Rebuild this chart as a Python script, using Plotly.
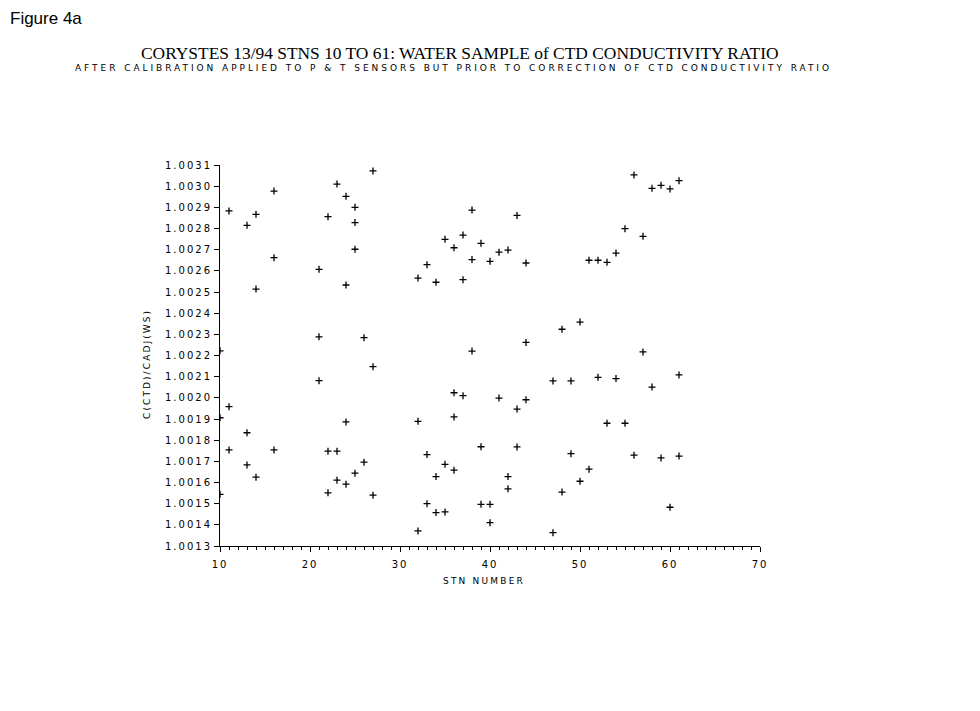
import plotly.graph_objects as go

# Station numbers and water-sample conductivity ratio C(CTD)/CADJ(WS)
stn = [
    10, 10, 10,
    11, 11, 11,
    13, 13, 13,
    14, 14, 14,
    16, 16, 16,
    21, 21, 21,
    22, 22, 22,
    23, 23, 23,
    24, 24, 24, 24,
    25, 25, 25, 25,
    26, 26,
    27, 27, 27,
    32, 32, 32,
    33, 33, 33,
    34, 34, 34,
    35, 35, 35,
    36, 36, 36, 36,
    37, 37, 37,
    38, 38, 38,
    39, 39, 39,
    40, 40, 40,
    41, 41,
    42, 42, 42,
    43, 43, 43,
    44, 44, 44,
    47, 47,
    48, 48,
    49, 49,
    50, 50,
    51, 51,
    52, 52,
    53, 53,
    54, 54,
    55, 55,
    56, 56,
    57, 57,
    58, 58,
    59, 59,
    60, 60,
    61, 61, 61,
]
ratio = [
    1.002222, 1.001906, 1.001544,
    1.002883, 1.001958, 1.001754,
    1.002815, 1.001835, 1.001683,
    1.002867, 1.002514, 1.001625,
    1.002977, 1.002662, 1.001754,
    1.002607, 1.002288, 1.002081,
    1.002856, 1.001748, 1.001551,
    1.003010, 1.001748, 1.001611,
    1.002952, 1.002533, 1.001886, 1.001592,
    1.002900, 1.002828, 1.002702, 1.001644,
    1.002284, 1.001696,
    1.003072, 1.002147, 1.001540,
    1.002566, 1.001889, 1.001371,
    1.002629, 1.001732, 1.001500,
    1.002546, 1.001628, 1.001458,
    1.002749, 1.001686, 1.001461,
    1.002709, 1.002024, 1.001910, 1.001658,
    1.002769, 1.002558, 1.002010,
    1.002887, 1.002653, 1.002221,
    1.002730, 1.001769, 1.001497,
    1.002645, 1.001497, 1.001410,
    1.002688, 1.001999,
    1.002698, 1.001628, 1.001570,
    1.002862, 1.001947, 1.001768,
    1.002637, 1.002262, 1.001991,
    1.002080, 1.001363,
    1.002324, 1.001555,
    1.002080, 1.001736,
    1.002358, 1.001606,
    1.002650, 1.001663,
    1.002650, 1.002097,
    1.002640, 1.001880,
    1.002684, 1.002091,
    1.002799, 1.001880,
    1.003053, 1.001729,
    1.002763, 1.002217,
    1.002990, 1.002051,
    1.003004, 1.001716,
    1.002987, 1.001483,
    1.003026, 1.002108, 1.001725,
]

y_ticks = [1.0013 + 0.0001 * i for i in range(19)]
y_labels = [f"{v:.4f}" for v in y_ticks]
x_ticks = [10, 20, 30, 40, 50, 60, 70]
x_labels = [str(v) for v in x_ticks]

title_text = "CORYSTES 13/94 STNS 10 TO 61: WATER SAMPLE of CTD CONDUCTIVITY RATIO"
subtitle_text = "AFTER CALIBRATION APPLIED TO P & T SENSORS BUT PRIOR TO CORRECTION OF CTD CONDUCTIVITY RATIO"
x_title = "STN NUMBER"
y_title = "C(CTD)/CADJ(WS)"
fig_label = "Figure 4a"


def spaced(text, px):
    return f'<span style="letter-spacing:{px}px">{text}</span>'


W, H = 980, 711
ML, MR, MT, MB = 212, 228, 157, 173
PW, PH = W - ML - MR, H - MT - MB


def px_x(x):
    return (x - ML) / PW


def px_y(y):
    return (H - y - MB) / PH


fig = go.Figure()
fig.add_trace(go.Scatter(
    x=stn, y=ratio, mode="markers",
    marker=dict(symbol="cross-thin", size=5, color="black",
                line=dict(color="black", width=1.3)),
    showlegend=False, hoverinfo="x+y",
))

tick_font = dict(family="DejaVu Sans", size=10, color="black")
title_font = dict(family="DejaVu Sans", size=9, color="black")

fig.update_layout(
    width=W, height=H,
    paper_bgcolor="white", plot_bgcolor="white",
    margin=dict(l=ML, r=MR, t=MT, b=MB),
    xaxis=dict(
        range=[10, 70], tickvals=x_ticks, ticktext=[spaced(t, 2) for t in x_labels],
        showgrid=False, zeroline=False,
        showline=True, linecolor="black", linewidth=1,
        ticks="outside", ticklen=5, tickcolor="black", tickwidth=1,
        minor=dict(dtick=1, ticks="outside", ticklen=3, tickcolor="black", tickwidth=1),
        tickfont=tick_font, ticklabelstandoff=4,
    ),
    yaxis=dict(
        range=[1.0013, 1.0031], tickvals=y_ticks, ticktext=[spaced(t, 2) for t in y_labels],
        showgrid=False, zeroline=False,
        showline=True, linecolor="black", linewidth=1,
        ticks="outside", ticklen=5, tickcolor="black", tickwidth=1,
        tickfont=tick_font,
    ),
    annotations=[
        dict(text=fig_label, x=px_x(0), y=px_y(10), xref="paper", yref="paper",
             showarrow=False, xanchor="left", yanchor="middle",
             font=dict(family="Liberation Sans", size=17, color="black")),
        dict(text=title_text, x=px_x(452), y=px_y(45), xref="paper", yref="paper",
             showarrow=False, xanchor="center", yanchor="middle",
             font=dict(family="Liberation Serif", size=17.4, color="black")),
        dict(text=spaced(subtitle_text, 2.95), x=px_x(445), y=px_y(60), xref="paper", yref="paper",
             showarrow=False, xanchor="center", yanchor="middle",
             font=dict(family="DejaVu Sans", size=9, color="black")),
        dict(text=spaced(x_title, 2.2), x=px_x(476), y=px_y(573), xref="paper", yref="paper",
             showarrow=False, xanchor="center", yanchor="middle", font=title_font),
        dict(text=spaced(y_title, 2.1), x=px_x(139), y=px_y(356), xref="paper", yref="paper",
             showarrow=False, xanchor="center", yanchor="middle", textangle=-90, font=title_font),
    ],
)

fig.write_html("out.html")
